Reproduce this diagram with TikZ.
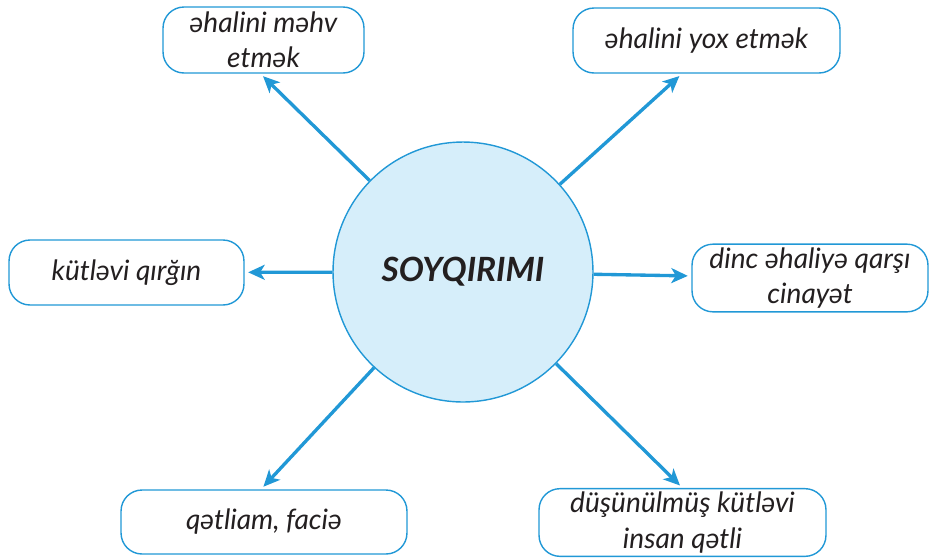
\documentclass[tikz,border=0pt]{standalone}
\usepackage{fontspec}
\setmainfont{Lato}
\usetikzlibrary{arrows.meta, positioning}
\definecolor{mapBlue}{RGB}{33,152,214}
\definecolor{coreFill}{RGB}{214,238,250}
\definecolor{textGray}{RGB}{35,31,32}

\begin{document}
\begin{tikzpicture}[
    x=0.02cm, y=-0.02cm,
    core/.style={circle, draw=mapBlue, line width=0.8pt, fill=coreFill, minimum size=5.2cm, font=\bfseries\itshape\fontsize{19}{22}\selectfont, text=textGray},
    idea/.style={rectangle, draw=mapBlue, line width=0.8pt, rounded corners=0.42cm, align=center, font=\itshape\fontsize{16}{20}\selectfont, text=textGray, inner sep=2pt},
    arrow/.style={-{Stealth[length=3.3mm, width=3mm, inset=0.9mm]}, mapBlue, line width=1.9pt, shorten >=2pt}
]
\useasboundingbox (0,0) rectangle (930,559);

\node[core] (genocide) at (463,272) {SOYQIRIMI};

\node[idea, minimum width=4.02cm, minimum height=1.32cm] (destroy) at (263.5,40) {əhalini məhv\\etmək};
\node[idea, minimum width=5.34cm, minimum height=1.3cm] (wipeout) at (706.5,40.5) {əhalini yox etmək};
\node[idea, minimum width=4.7cm, minimum height=1.3cm] (massacre) at (126.5,272.5) {kütləvi qırğın};
\node[idea, minimum width=4.72cm, minimum height=1.32cm] (crime) at (810,278) {dinc əhaliyə qarşı\\cinayət};
\node[idea, minimum width=5.72cm, minimum height=1.28cm] (tragedy) at (264,522) {qətliam, faciə};
\node[idea, minimum width=5.74cm, minimum height=1.3cm] (planned) at (682.5,522.5) {düşünülmüş kütləvi\\insan qətli};

\draw[arrow] (genocide) -- ([xshift=-0.06cm]destroy.south);
\draw[arrow] (genocide) -- ([xshift=-0.49cm]wipeout.south);
\draw[arrow] (genocide) -- (massacre);
\draw[arrow] (genocide) -- (crime);
\draw[arrow] (genocide) -- ([xshift=-0.06cm]tragedy.north);
\draw[arrow] (genocide) -- (planned.north);

\end{tikzpicture}
\end{document}
